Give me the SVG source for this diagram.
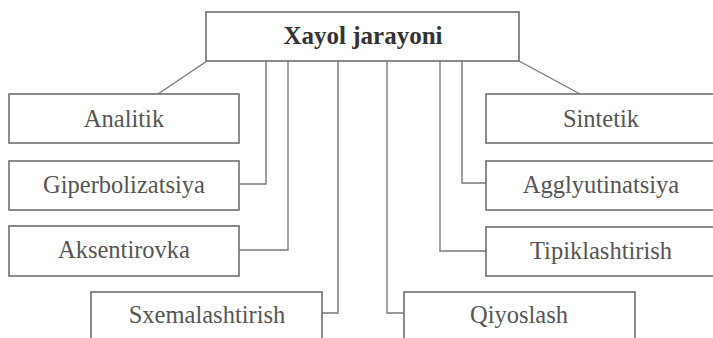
<svg xmlns="http://www.w3.org/2000/svg" width="713" height="338" viewBox="0 0 713 338">
<style>
.box{fill:#ffffff;stroke:#6e6e6e;stroke-width:1.6}
text{font-family:'Liberation Serif',serif;font-size:24.5px;fill:#555555;text-anchor:middle}
.title{font-weight:bold;fill:#333333;font-size:25px}
.c{fill:none;stroke:#7a7a7a;stroke-width:1.4}
</style>
<rect x="0" y="0" width="713" height="338" fill="#ffffff"/>
<g id="connectors">
<path class="c" d="M207,61 L158,94"/>
<path class="c" d="M519,61 L580,94"/>
<path class="c" d="M266,61 V184 H239"/>
<path class="c" d="M288,61 V250 H239"/>
<path class="c" d="M338,61 V313 H322"/>
<path class="c" d="M462,61 V183 H486"/>
<path class="c" d="M440,61 V251 H486"/>
<path class="c" d="M387,61 V313 H404"/>
</g>
<g id="node-root"><rect class="box" x="206" y="12" width="313" height="49"/><text class="title" x="363" y="44">Xayol jarayoni</text></g>
<g id="node-analitik"><rect class="box" x="9" y="94" width="230" height="49"/><text x="124" y="127">Analitik</text></g>
<g id="node-giperbolizatsiya"><rect class="box" x="9" y="161" width="230" height="49"/><text x="124" y="193">Giperbolizatsiya</text></g>
<g id="node-aksentirovka"><rect class="box" x="9" y="226" width="230" height="50"/><text x="124" y="258">Aksentirovka</text></g>
<g id="node-sxemalashtirish"><rect class="box" x="91" y="292" width="231" height="60"/><text x="207" y="323">Sxemalashtirish</text></g>
<g id="node-sintetik"><rect class="box" x="486" y="94" width="231" height="49"/><text x="601" y="127">Sintetik</text></g>
<g id="node-agglyutinatsiya"><rect class="box" x="486" y="161" width="231" height="49"/><text x="601" y="193">Agglyutinatsiya</text></g>
<g id="node-tipiklashtirish"><rect class="box" x="486" y="227" width="231" height="49"/><text x="601" y="259">Tipiklashtirish</text></g>
<g id="node-qiyoslash"><rect class="box" x="404" y="292" width="231" height="60"/><text x="519" y="323">Qiyoslash</text></g>
</svg>
